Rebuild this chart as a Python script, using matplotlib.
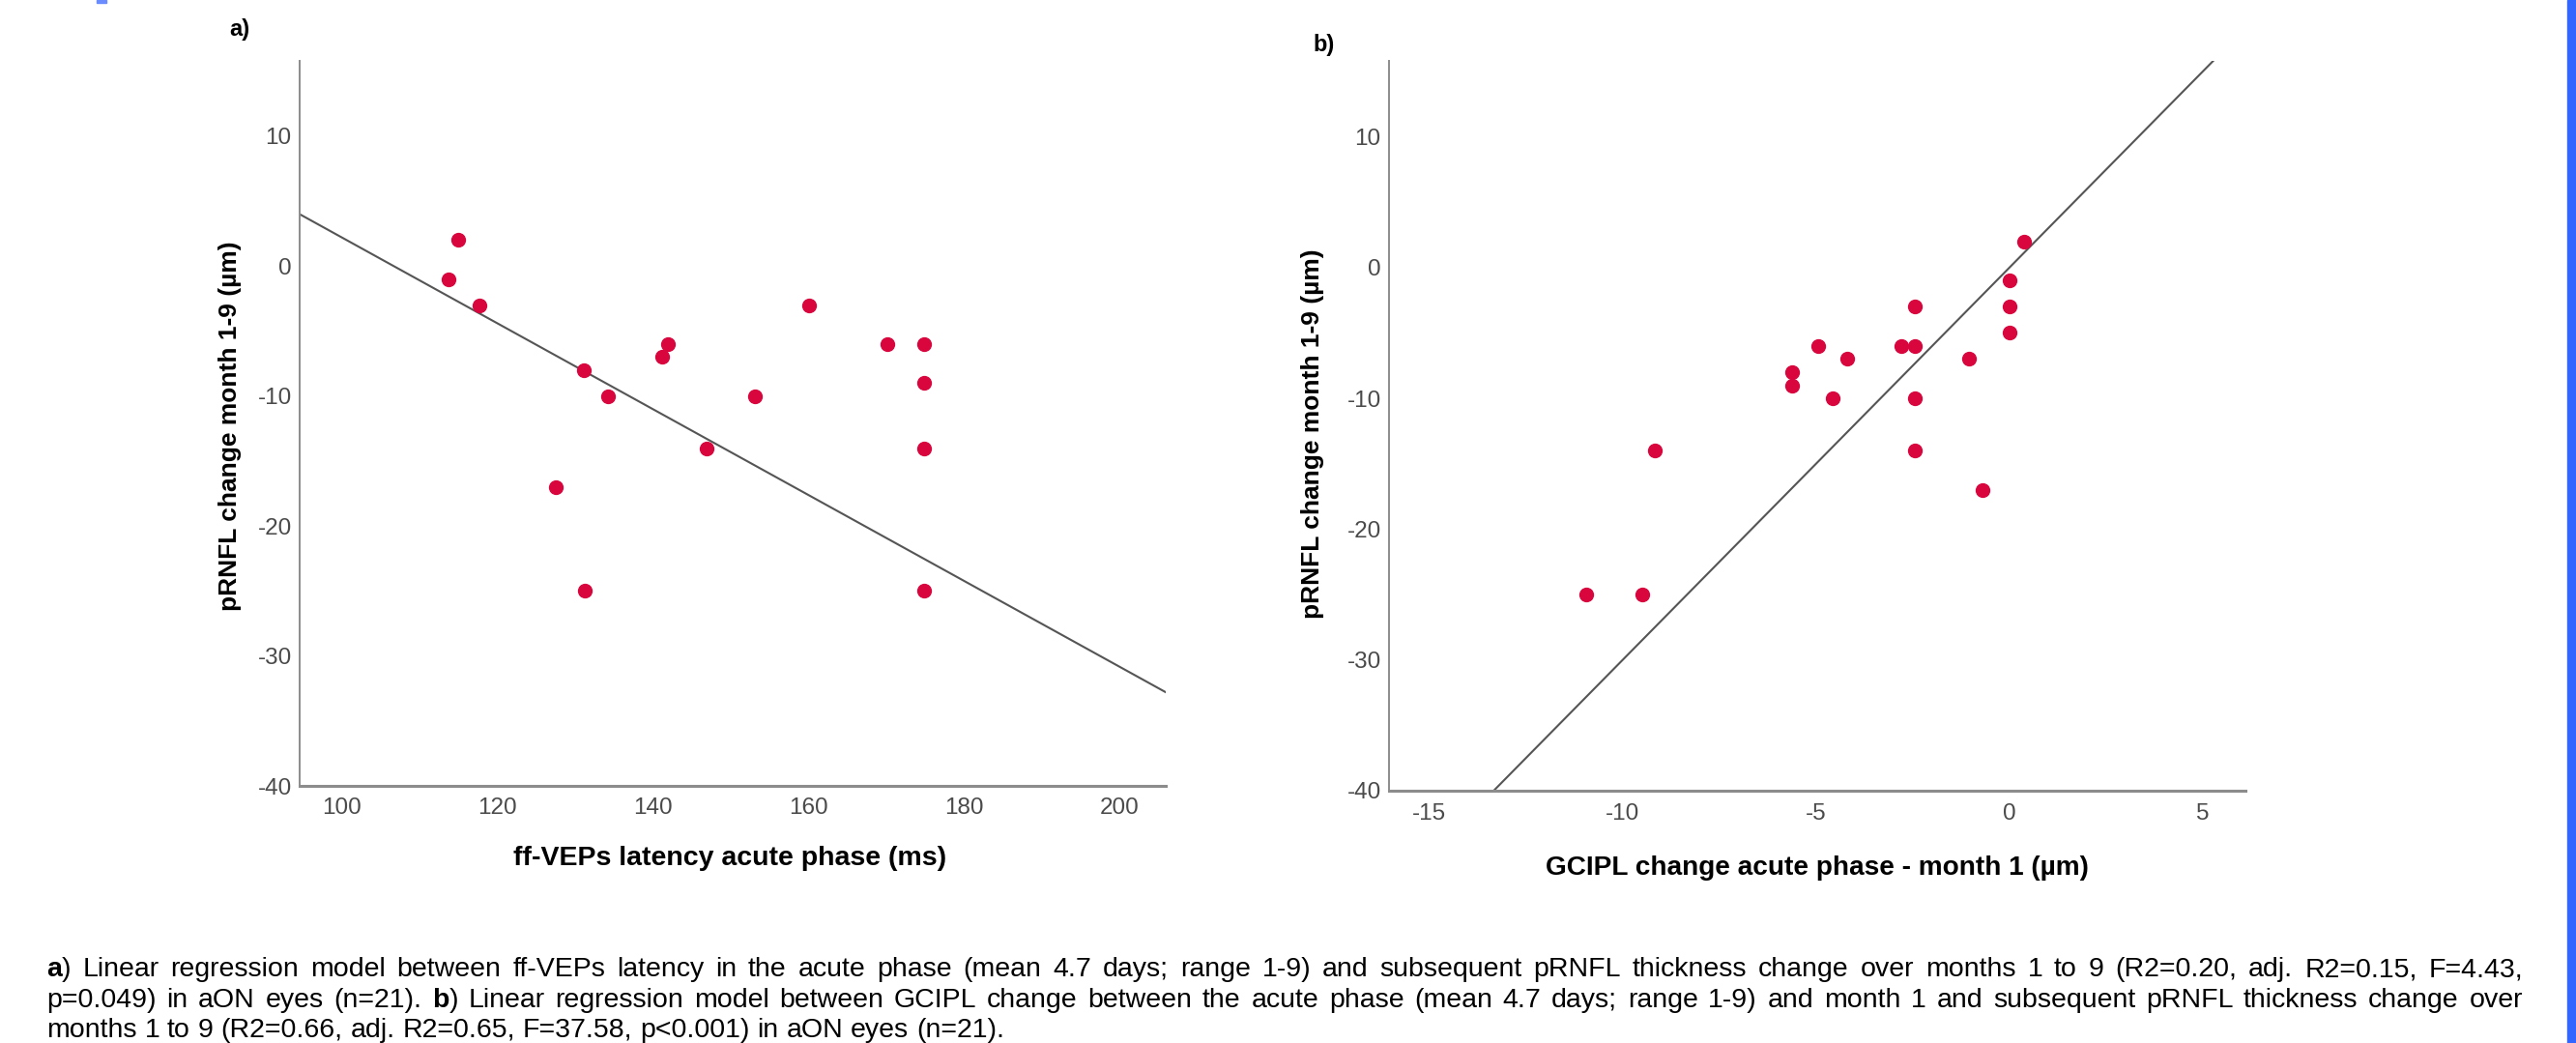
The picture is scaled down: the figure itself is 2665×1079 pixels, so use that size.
import numpy as np
import matplotlib
matplotlib.use('Agg')
import matplotlib.pyplot as plt
from matplotlib.patches import Rectangle

plt.rcParams['axes.unicode_minus'] = False

# panel a: ff-VEP latency vs pRNFL change
vep_latency = [115.0, 113.7, 117.7, 160.1, 142.0, 141.2, 170.2, 174.9, 131.1, 134.2,
               153.1, 174.9, 147.0, 174.9, 127.6, 131.3, 174.9]
prnfl_a = [2, -1, -3, -3, -6, -7, -6, -6, -8, -10, -10, -9, -14, -14, -17, -25, -25]
fit_a = [35.25, -0.3303]   # intercept, slope

# panel b: GCIPL change vs pRNFL change
gcipl_change = [0.37, 0.0, 0.0, 0.0, -2.45, -4.94, -2.8, -2.45, -4.2, -1.05, -5.63,
                -5.63, -4.58, -2.45, -9.17, -2.45, -0.7, -10.95, -9.5]
prnfl_b = [2, -1, -3, -5, -3, -6, -6, -6, -7, -7, -8, -9, -10, -10, -14, -14, -17, -25, -25]
fit_b = [0.0, 3.0]

yticks = [10, 0, -10, -20, -30, -40]
xticks_a = [100, 120, 140, 160, 180, 200]
xticks_b = [-15, -10, -5, 0, 5]

caption = [
    [[("a", True), (")", False)], "Linear regression model between ff-VEPs latency in the acute phase "
     "(mean 4.7 days; range 1-9) and subsequent pRNFL thickness change over months 1 to 9 "
     "(R2=0.20, adj. R2=0.15, F=4.43,"],
    [None, "p=0.049) in aON eyes (n=21).", [("b", True), (")", False)],
     "Linear regression model between GCIPL change between the acute phase (mean 4.7 days; "
     "range 1-9) and month 1 and subsequent pRNFL thickness change over"],
    [None, "months 1 to 9 (R2=0.66, adj. R2=0.65, F=37.58, p<0.001) in aON eyes (n=21)."],
]

W, H = 2665, 1079
fig = plt.figure(figsize=(W / 100, H / 100), dpi=100)
fig.patch.set_facecolor('white')

sans = ['Liberation Sans', 'DejaVu Sans']
red = '#D9063E'
spine_c = '#8c8c8c'


def px_axes(x0, y0, x1, y1):
    return fig.add_axes([x0 / W, 1 - y1 / H, (x1 - x0) / W, (y1 - y0) / H])


def style(ax, xticks):
    for s in ['top', 'right']:
        ax.spines[s].set_visible(False)
    ax.spines['left'].set_color(spine_c)
    ax.spines['left'].set_linewidth(1.4)
    ax.spines['bottom'].set_color(spine_c)
    ax.spines['bottom'].set_linewidth(2.2)
    ax.set_yticks(yticks)
    ax.set_xticks(xticks)
    ax.tick_params(length=0, labelcolor='#4a4a4a', labelsize=17.5)
    ax.tick_params(axis='y', pad=6)
    ax.tick_params(axis='x', pad=9)
    for lab in ax.get_xticklabels() + ax.get_yticklabels():
        lab.set_family(sans)


# panel a
ax1 = px_axes(310, 63, 1206, 813)
ax1.set_xlim(94.6, 206)
ax1.set_ylim(-39.6, 15.8)
xs = np.array(ax1.get_xlim())
ax1.plot(xs, fit_a[0] + fit_a[1] * xs, color='#555555', lw=1.5, zorder=2)
ax1.plot(vep_latency, prnfl_a, 'o', ms=10, color=red, mec=red, zorder=3)
style(ax1, xticks_a)

# panel b
ax2 = px_axes(1437, 63, 2323, 818)
ax2.set_xlim(-16.04, 6.1)
ax2.set_ylim(-39.7, 15.8)
xs = np.array(ax2.get_xlim())
ax2.plot(xs, fit_b[0] + fit_b[1] * xs, color='#555555', lw=1.5, zorder=2)
ax2.plot(gcipl_change, prnfl_b, 'o', ms=10, color=red, mec=red, zorder=3)
style(ax2, xticks_b)

# labels
fig.text(248 / W, 1 - 30 / H, 'a)', fontsize=17, fontweight='bold', family=sans,
         ha='center', va='center')
fig.text(1370 / W, 1 - 46 / H, 'b)', fontsize=17, fontweight='bold', family=sans,
         ha='center', va='center')
fig.text(755 / W, 1 - 888 / H, 'ff-VEPs latency acute phase (ms)', fontsize=20.5,
         fontweight='bold', family=sans, ha='center', va='center')
fig.text(1880 / W, 1 - 898 / H, 'GCIPL change acute phase - month 1 (µm)', fontsize=20.2,
         fontweight='bold', family=sans, ha='center', va='center')
fig.text(238 / W, 1 - 441 / H, 'pRNFL change month 1-9 (µm)', fontsize=19,
         fontweight='bold', family=sans, rotation=90, ha='center', va='center')
fig.text(1358 / W, 1 - 449 / H, 'pRNFL change month 1-9 (µm)', fontsize=19,
         fontweight='bold', family=sans, rotation=90, ha='center', va='center')

# caption, justified word by word
renderer = fig.canvas.get_renderer()
cap_fs = 20.5
left, right = 48, 2610
baselines = [1010, 1042, 1073]


def mk(s, bold):
    return fig.text(0, 0, s, fontsize=cap_fs, family=sans,
                    fontweight='bold' if bold else 'normal', va='baseline', ha='left')


sp = mk('x x', False)
sp2 = mk('xx', False)
space_w = sp.get_window_extent(renderer).width - sp2.get_window_extent(renderer).width
sp.remove()
sp2.remove()

for li, line in enumerate(caption):
    words = []
    for part in line:
        if part is None:
            continue
        if isinstance(part, str):
            for w in part.split(' '):
                words.append([(w, False)])
        else:
            words.append(part)
    objs = []
    widths = []
    for w in words:
        runs = [mk(s, b) for s, b in w]
        ws = [t.get_window_extent(renderer).width for t in runs]
        objs.append((runs, ws))
        widths.append(sum(ws))
    if li < len(caption) - 1:
        gap = (right - left - sum(widths)) / (len(words) - 1)
    else:
        gap = space_w
    x = left
    y = 1 - baselines[li] / H
    for (runs, ws), wtot in zip(objs, widths):
        cx = x
        for t, w in zip(runs, ws):
            t.set_position((cx / W, y))
            cx += w
        x += wtot + gap

# blue page edge marks
fig.patches.append(Rectangle((2656 / W, 0), 9 / W, 1, transform=fig.transFigure,
                             color='#3366FF', zorder=5))
fig.patches.append(Rectangle((100 / W, 1 - 3 / H), 10 / W, 3 / H, transform=fig.transFigure,
                             color='#6a8cff', zorder=5))

fig.savefig('out.png', dpi=100, facecolor='white')
